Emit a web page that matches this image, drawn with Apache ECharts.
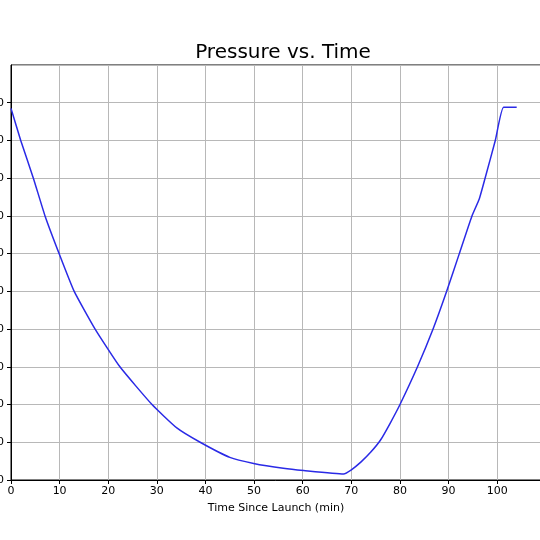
<!DOCTYPE html>
<html>
<head>
<meta charset="utf-8">
<script src="https://cdn.jsdelivr.net/npm/echarts@6/dist/echarts.min.js"></script>
<style>
html,body{margin:0;padding:0;background:#fff;}
#chart{width:540px;height:540px;}
</style>
</head>
<body>
<div id="chart"></div>
<script>
const timeMin = [0, 2.0, 4.6, 7.0, 9.9, 13.0, 17.3, 22.4, 29.0, 34.1, 38.9, 45, 49.9, 56, 60.2, 68.4, 70, 72, 74, 76, 78, 80, 83.6, 86.8, 89.6, 92.2, 94.8, 96.3, 97.5, 99.6, 101.3, 104];
const pressure = [985, 900, 800, 700, 600, 500, 400, 300, 200, 138, 100, 60, 44, 31, 25, 16, 27, 48, 74, 106, 151, 200, 300, 400, 500, 600, 700, 745, 800, 900, 988, 988];
const xTicks = [0, 10, 20, 30, 40, 50, 60, 70, 80, 90, 100];
const yTicks = [0, 100, 200, 300, 400, 500, 600, 700, 800, 900, 1000, 1100];

const chart = echarts.init(document.getElementById('chart'));
const font = 'DejaVu Sans';
chart.setOption({
  animation: false,
  backgroundColor: '#fff',
  title: {
    text: 'Pressure vs. Time',
    left: 278, top: 38, textAlign: 'center',
    textStyle: {fontFamily: font, fontSize: 20, fontWeight: 'normal', color: '#000'}
  },
  grid: {left: 11, top: 65, width: 530, height: 415, containLabel: false, outerBoundsMode: 'none',
    show: true, borderColor: '#000', borderWidth: 1, backgroundColor: 'transparent'},
  xAxis: {
    type: 'value', min: 0, max: 109, interval: 10,
    name: 'Time Since Launch (min)', nameLocation: 'middle', nameGap: 23,
    nameTextStyle: {fontFamily: font, fontSize: 11, color: '#000'},
    axisLine: {lineStyle: {color: '#000', width: 1}},
    axisTick: {length: 4, lineStyle: {color: '#000'}},
    axisLabel: {fontFamily: font, fontSize: 11, color: '#000', margin: 6, showMaxLabel: false,
      formatter: v => xTicks.includes(v) ? String(v) : ''},
    splitLine: {show: true, lineStyle: {color: '#b8b8b8', width: 1}}
  },
  yAxis: {
    type: 'value', min: 0, max: 1100, interval: 100,
    axisLine: {show: true, lineStyle: {color: '#000', width: 1}},
    axisTick: {show: true, length: 4, lineStyle: {color: '#000'}},
    axisLabel: {fontFamily: font, fontSize: 11, color: '#000', margin: 7, showMaxLabel: false,
      formatter: v => yTicks.includes(v) ? String(v) : ''},
    splitLine: {show: true, lineStyle: {color: '#b8b8b8', width: 1}}
  },
  series: [{
    type: 'line',
    data: timeMin.map((t, i) => [t, pressure[i]]),
    showSymbol: false,
    smooth: 0.15,
    lineStyle: {color: '#2a2ae6', width: 1.5},
    itemStyle: {color: '#2a2ae6'}
  }]
});
</script>
</body>
</html>
